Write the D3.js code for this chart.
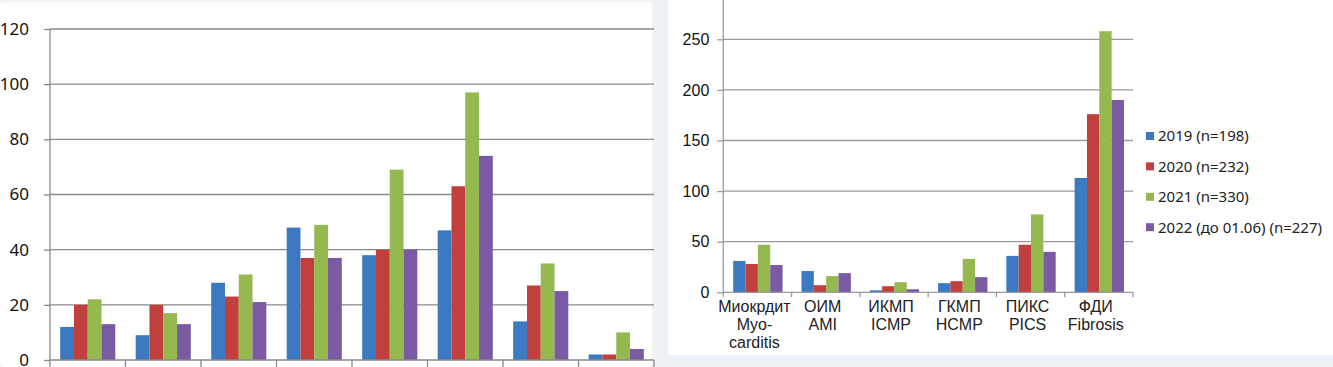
<!DOCTYPE html>
<html>
<head>
<meta charset="utf-8">
<script src="https://cdn.jsdelivr.net/npm/d3@7"></script>
<style>
  body { margin: 0; background: #edf2f7; }
  svg { display: block; }
</style>
</head>
<body>
<svg id="chart" width="1333" height="367"></svg>
<script>
// series names (legend)
const seriesNames = ["2019 (n=198)", "2020 (n=232)", "2021 (n=330)", "2022 (до 01.06) (n=227)"]
const seriesColors = ["#3c79c3", "#c1403e", "#95b94f", "#7b5aa4"]

// left chart: 8 groups, labels cut off in the picture
const leftCategories = ["1", "2", "3", "4", "5", "6", "7", "8"]
const left2019 = [12, 9, 28, 48, 38, 47, 14, 2]
const left2020 = [20, 20, 23, 37, 40, 63, 27, 2]
const left2021 = [22, 17, 31, 49, 69, 97, 35, 10]
const left2022 = [13, 13, 21, 37, 40, 74, 25, 4]
const leftTicks = [0, 20, 40, 60, 80, 100, 120]

// right chart
const rightCategories = [
  ["Миокрдит", "Myo-", "carditis"],
  ["ОИМ", "AMI"],
  ["ИКМП", "ICMP"],
  ["ГКМП", "HCMP"],
  ["ПИКС", "PICS"],
  ["ФДИ", "Fibrosis"]
]
const right2019 = [31, 21, 2, 9, 36, 113]
const right2020 = [28, 7, 6, 11, 47, 176]
const right2021 = [47, 16, 10, 33, 77, 258]
const right2022 = [27, 19, 3, 15, 40, 190]
const rightTicks = [0, 50, 100, 150, 200, 250]

const leftSeries = [left2019, left2020, left2021, left2022]
const rightSeries = [right2019, right2020, right2021, right2022]

let svg = d3.select("#chart")

// panels
svg.append("rect").attr("x", 0).attr("y", 0).attr("width", 656).attr("height", 367).attr("fill", "#f3f3f3")
svg.append("rect").attr("x", 0).attr("y", 2).attr("width", 652).attr("height", 365).attr("rx", 4).attr("fill", "#fff")
svg.append("rect").attr("x", 668).attr("y", 0).attr("width", 665).attr("height", 355).attr("fill", "#fff")

function drawChart(opts) {
  let { cats, series, ticks, x0, x1, yBase, yTop, yMaxVal, ymax, inner, gridColor, tickFont, tickSize, labelX } = opts
  let keys = cats.map((c, i) => i)

  let x = d3.scaleBand().domain(keys).range([x0, x1]).padding(0)
  let xs = d3.scaleBand().domain(d3.range(series.length))
              .range([x.bandwidth() * inner[0], x.bandwidth() * inner[1]]).padding(0)
  let y = d3.scaleLinear().domain([0, ymax]).range([yBase, yTop])

  let g = svg.append("g")

  // grid
  g.append("g")
    .selectAll("line")
    .data(ticks.filter(t => t > 0))
    .join("line")
      .attr("x1", x0).attr("x2", x1)
      .attr("y1", d => y(d)).attr("y2", d => y(d))
      .attr("stroke", gridColor)
      .attr("stroke-width", 1.3)

  // bars
  g.append("g")
    .selectAll("g")
    .data(keys)
    .join("g")
      .attr("transform", d => `translate(${x(d)},0)`)
    .selectAll("rect")
    .data(k => series.map((s, i) => ({ i, v: s[k] })))
    .join("rect")
      .attr("x", d => xs(d.i))
      .attr("width", xs.bandwidth())
      .attr("y", d => y(d.v))
      .attr("height", d => yBase - y(d.v))
      .attr("fill", d => seriesColors[d.i])

  // y axis
  let yAxis = g.append("g")
    .attr("transform", `translate(${x0},0)`)
    .call(d3.axisLeft(y).tickValues(ticks).tickSize(6).tickPadding(labelX))
  yAxis.select(".domain").remove()
  yAxis.selectAll("line").attr("stroke", gridColor).attr("stroke-width", 1.3)
  yAxis.selectAll("text")
    .attr("fill", "#111")
    .style("font-family", tickFont.family)
    .style("font-size", tickFont.size)
  g.append("line")
    .attr("x1", x0).attr("x2", x0)
    .attr("y1", yBase).attr("y2", yMaxVal)
    .attr("stroke", gridColor).attr("stroke-width", 1.3)

  // x axis baseline and separators
  g.append("line")
    .attr("x1", x0).attr("x2", x1)
    .attr("y1", yBase).attr("y2", yBase)
    .attr("stroke", gridColor).attr("stroke-width", 1.3)
  g.append("g")
    .selectAll("line")
    .data(keys.concat([keys.length]))
    .join("line")
      .attr("x1", d => d < keys.length ? x(d) : x1)
      .attr("x2", d => d < keys.length ? x(d) : x1)
      .attr("y1", yBase).attr("y2", yBase + tickSize)
      .attr("stroke", gridColor).attr("stroke-width", 1.3)

  return { x, y, g }
}

// left chart
drawChart({
  cats: leftCategories, series: leftSeries, ticks: leftTicks,
  x0: 50, x1: 654, yBase: 360, yTop: 29, yMaxVal: 29, ymax: 120,
  inner: [0.135, 0.865], gridColor: "#8a8a8a",
  tickFont: { family: "'Noto Sans', sans-serif", size: "17px" },
  tickSize: 8, labelX: 15
})

// right chart
let right = drawChart({
  cats: rightCategories, series: rightSeries, ticks: rightTicks,
  x0: 723.3, x1: 1133, yBase: 292.3, yTop: -11.3, yMaxVal: 0, ymax: 300,
  inner: [0.145, 0.868], gridColor: "#9a9a9a",
  tickFont: { family: "'Liberation Sans', Arial, sans-serif", size: "16px" },
  tickSize: 5, labelX: 8
})

// right x labels
right.g.append("g")
  .selectAll("text")
  .data(rightCategories)
  .join("text")
    .attr("x", (d, i) => right.x(i) + right.x.bandwidth() / 2 - 3)
    .attr("y", 311.5)
    .attr("text-anchor", "middle")
    .attr("fill", "#222")
    .style("font-family", "'Liberation Sans', Arial, sans-serif")
    .style("font-size", "16px")
  .selectAll("tspan")
  .data(d => d)
  .join("tspan")
    .attr("x", function () { return this.parentNode.getAttribute("x") })
    .attr("dy", (d, i) => i === 0 ? 0 : 18.3)
    .text(d => d)

// legend
let legend = svg.append("g")
  .selectAll("g")
  .data(seriesNames)
  .join("g")
    .attr("transform", (d, i) => `translate(1146,${136 + i * 30.4})`)
legend.append("rect")
  .attr("x", 0).attr("y", -4).attr("width", 8).attr("height", 8)
  .attr("fill", (d, i) => seriesColors[i])
legend.append("text")
  .attr("x", 12).attr("y", 0).attr("dy", "0.36em")
  .attr("fill", "#222")
  .style("font-family", "'Noto Sans', sans-serif")
  .style("font-size", "15px")
  .text(d => d)
</script>
</body>
</html>
